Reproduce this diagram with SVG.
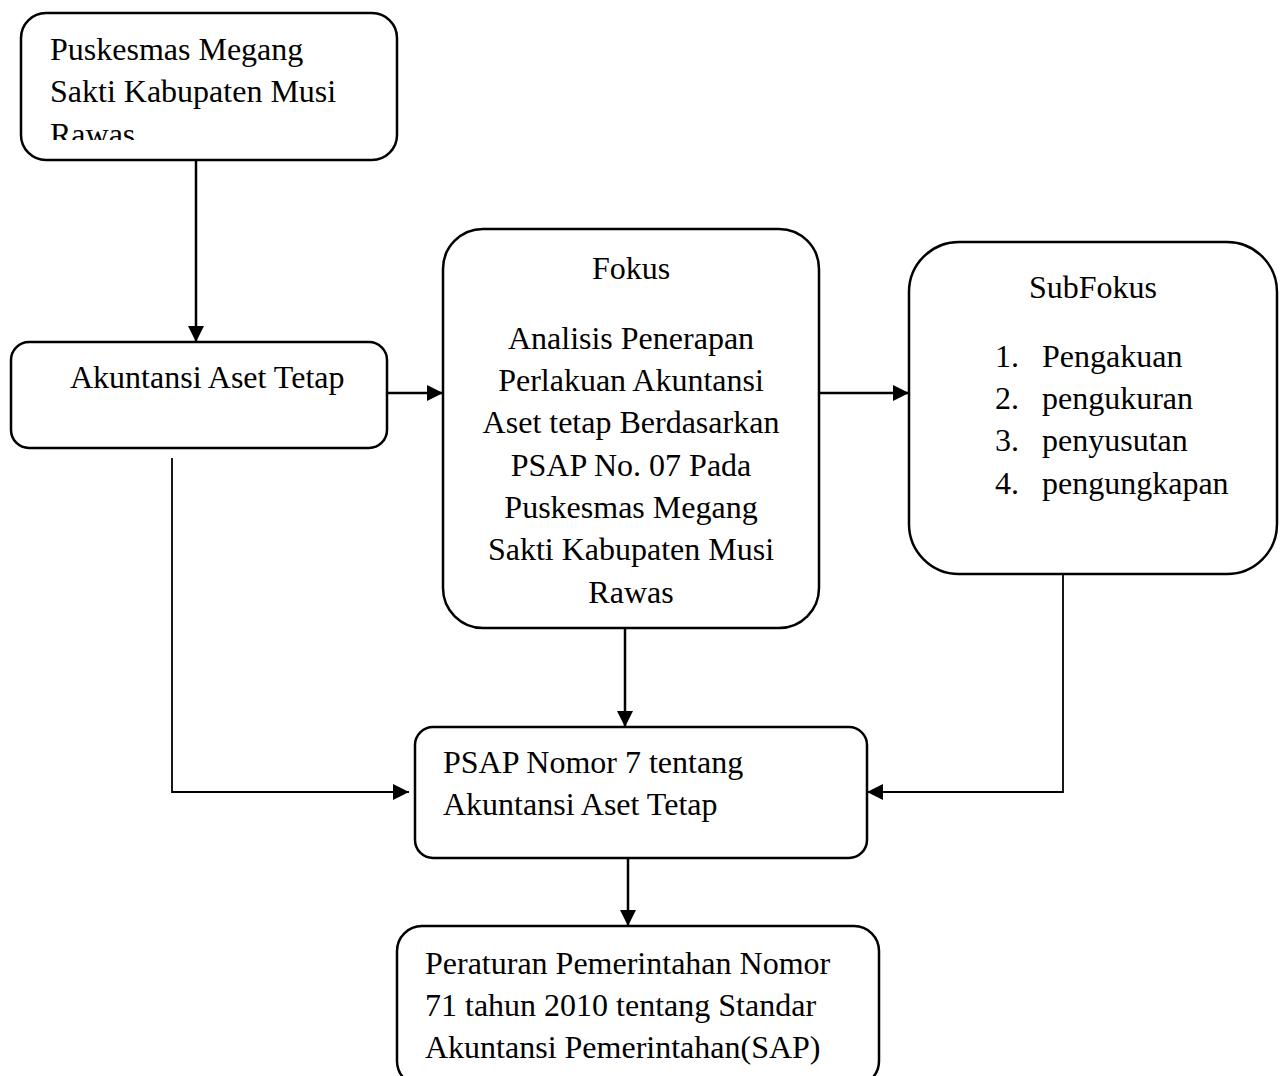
<svg xmlns="http://www.w3.org/2000/svg" width="1285" height="1076" viewBox="0 0 1285 1076">
<style>
.box{fill:#fff;stroke:#000;stroke-width:2.5}
.t{font-family:"Liberation Serif","Times New Roman",serif;font-size:32px;fill:#000}
.c{text-anchor:middle}
.ln{fill:none;stroke:#000;stroke-width:2.5}
.thin{fill:none;stroke:#000;stroke-width:1.8}
</style>
<defs>
<marker id="ah2" viewBox="0 0 10 10" refX="10" refY="5" markerWidth="16" markerHeight="16" markerUnits="userSpaceOnUse" orient="auto">
<path d="M0,0 L10,5 L0,10 z" fill="#000"/>
</marker>
<clipPath id="clip1"><rect x="22" y="14" width="374" height="126"/></clipPath>
</defs>
<rect width="1285" height="1076" fill="#fff"/>
<g id="connectors">
<path class="ln" d="M196,160 V342" marker-end="url(#ah2)"/>
<path class="ln" d="M387,393 H443" marker-end="url(#ah2)"/>
<path class="ln" d="M819,393 H909" marker-end="url(#ah2)"/>
<path class="ln" d="M625,628 V727" marker-end="url(#ah2)"/>
<path class="thin" d="M172,458 V792 H409" marker-end="url(#ah2)"/>
<path class="thin" d="M1063,574 V792 H867" marker-end="url(#ah2)"/>
<path class="ln" d="M628,858 V926" marker-end="url(#ah2)"/>
</g>
<g id="node-puskesmas">
<rect class="box" x="21" y="13" width="376" height="147" rx="25"/>
<g clip-path="url(#clip1)">
<text class="t" x="50" y="60">Puskesmas Megang</text>
<text class="t" x="50" y="102">Sakti Kabupaten Musi</text>
<text class="t" x="50" y="145">Rawas.</text>
</g>
</g>
<g id="node-akuntansi">
<rect class="box" x="11" y="342" width="376" height="106" rx="18"/>
<text class="t" x="70" y="388">Akuntansi Aset Tetap</text>
</g>
<g id="node-fokus">
<rect class="box" x="443" y="229" width="376" height="399" rx="40"/>
<text class="t c" x="631" y="279">Fokus</text>
<text class="t c" x="631" y="349">Analisis Penerapan</text>
<text class="t c" x="631" y="391">Perlakuan Akuntansi</text>
<text class="t c" x="631" y="433">Aset tetap Berdasarkan</text>
<text class="t c" x="631" y="476">PSAP No. 07 Pada</text>
<text class="t c" x="631" y="518">Puskesmas Megang</text>
<text class="t c" x="631" y="560">Sakti Kabupaten Musi</text>
<text class="t c" x="631" y="603">Rawas</text>
</g>
<g id="node-subfokus">
<rect class="box" x="909" y="242" width="368" height="332" rx="50"/>
<text class="t c" x="1093" y="298">SubFokus</text>
<text class="t" x="995" y="367">1.</text><text class="t" x="1042" y="367">Pengakuan</text>
<text class="t" x="995" y="409">2.</text><text class="t" x="1042" y="409">pengukuran</text>
<text class="t" x="995" y="451">3.</text><text class="t" x="1042" y="451">penyusutan</text>
<text class="t" x="995" y="494">4.</text><text class="t" x="1042" y="494">pengungkapan</text>
</g>
<g id="node-psap">
<rect class="box" x="415" y="727" width="452" height="131" rx="18"/>
<text class="t" x="443" y="773">PSAP Nomor 7 tentang</text>
<text class="t" x="443" y="815">Akuntansi Aset Tetap</text>
</g>
<g id="node-peraturan">
<rect class="box" x="397" y="926" width="482" height="160" rx="25"/>
<text class="t" x="425" y="974">Peraturan Pemerintahan Nomor</text>
<text class="t" x="425" y="1016">71 tahun 2010 tentang Standar</text>
<text class="t" x="425" y="1058">Akuntansi Pemerintahan(SAP)</text>
</g>
</svg>
